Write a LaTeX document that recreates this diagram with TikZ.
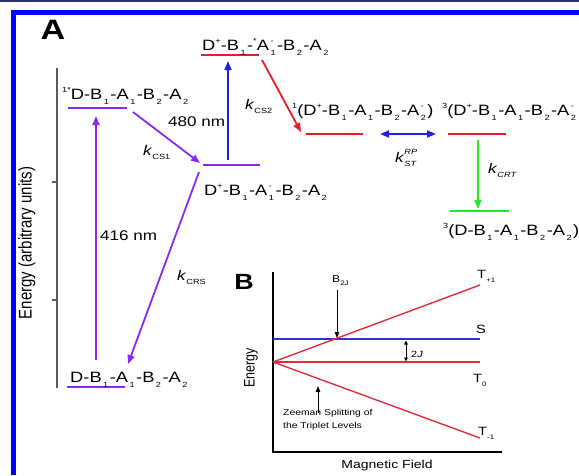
\documentclass[tikz,border=0pt]{standalone}
\usepackage{fontspec}
\setmainfont{Liberation Sans}[FakeStretch=1.22]
\newfontfamily\plainsf{Liberation Sans}
\usetikzlibrary{arrows.meta}
\definecolor{pu}{RGB}{140,40,240}
\definecolor{rd}{RGB}{230,30,40}
\definecolor{bl}{RGB}{30,30,230}
\definecolor{gr}{RGB}{40,230,40}
\definecolor{rdB}{RGB}{225,45,60}
\definecolor{blB}{RGB}{50,50,200}
\definecolor{frame}{RGB}{0,0,255}
\definecolor{navy}{RGB}{40,50,100}
\definecolor{axg}{RGB}{90,90,90}
\newcommand\sbs[1]{\kern1.5pt\raisebox{-5.5pt}{\fontsize{7.5}{7.5}\selectfont #1}\kern1.5pt}
\newcommand\sps[1]{\raisebox{6.5pt}{\fontsize{7.5}{7.5}\selectfont #1}}
\newcommand\ssb[2]{\kern1.5pt\rlap{\raisebox{6.5pt}{\fontsize{7.5}{7.5}\selectfont #1}}\raisebox{-5.5pt}{\fontsize{7.5}{7.5}\selectfont #2}\kern1.5pt}
\newcommand\ksub[2]{\textit{k}\raisebox{-4pt}{\fontsize{7.5}{7.5}\selectfont #2}}
\begin{document}
\begin{tikzpicture}[x=1pt,y=-1pt,
  lbl/.style={anchor=base west,inner sep=0pt,font=\fontsize{15}{18}\selectfont},
  klbl/.style={anchor=base west,inner sep=0pt,font=\fontsize{14}{16}\selectfont},
  lvl/.style={line width=2pt},
  arr/.style={line width=1.8pt,-{Triangle[length=9pt,width=7pt]}},
  barr/.style={line width=1pt,-{Triangle[length=6pt,width=4.5pt]}},
  bline/.style={line width=1.4pt},
  blbl/.style={anchor=base west,inner sep=0pt,font=\fontsize{12}{14}\selectfont}]
\useasboundingbox (0,0) rectangle (579,475);
% frame
\fill[navy] (0,0) rectangle (579,1.5);
\fill[frame] (11,10) rectangle (579,15);
\fill[frame] (11,10) rectangle (16,475);
% panel letters
\node[inner sep=0pt,font=\fontsize{28}{30}\selectfont\bfseries] (A) at (53,30) {A};
\node[inner sep=0pt,font=\fontsize{22}{24}\selectfont\bfseries] (B) at (244,282) {B};
% energy axis
\coordinate (axT) at (57,68);
\coordinate (axB) at (57,388);
\draw[axg,line width=1.3pt] (axT) -- (axB);
\coordinate (t1a) at (52,182); \coordinate (t1b) at (57,182);
\coordinate (t2a) at (52,300); \coordinate (t2b) at (57,300);
\draw[axg,line width=1.2pt] (t1a) -- (t1b);
\draw[axg,line width=1.2pt] (t2a) -- (t2b);
\node[rotate=90,inner sep=0pt,font=\plainsf\fontsize{15}{18}\selectfont] (ylab) at (27,243) {\scalebox{1}[1.22]{Energy (arbitrary units)}};
% levels
\coordinate (s1a) at (68,108); \coordinate (s1b) at (127,108);
\coordinate (csa) at (203,165); \coordinate (csb) at (260,165);
\coordinate (tpa) at (201,55); \coordinate (tpb) at (259,55);
\coordinate (gda) at (67,387); \coordinate (gdb) at (125,387);
\coordinate (r1a) at (306,134); \coordinate (r1b) at (363,134);
\coordinate (r3a) at (448,134); \coordinate (r3b) at (506,134);
\coordinate (gra) at (450,211); \coordinate (grb) at (509,211);
\draw[lvl,pu] (s1a) -- (s1b);
\draw[lvl,pu] (csa) -- (csb);
\draw[lvl,rd] (tpa) -- (tpb);
\draw[lvl,pu] (gda) -- (gdb);
\draw[lvl,rd] (r1a) -- (r1b);
\draw[lvl,rd] (r3a) -- (r3b);
\draw[lvl,gr] (gra) -- (grb);
% level labels
\node[lbl] (L1) at (62,99) {\sps{1*}D-B\sbs1-A\sbs1-B\sbs2-A\sbs2};
\node[lbl] (Ltop) at (202,50) {D\sps{+}-B\sbs1-\sps{*}A\ssb{-}{1}-B\sbs2-A\sbs2};
\node[lbl] (Lmid) at (204,195) {D\sps{+}-B\sbs1-A\ssb{-}{1}-B\sbs2-A\sbs2};
\node[lbl] (Lgd) at (70,382) {D-B\sbs1-A\sbs1-B\sbs2-A\sbs2};
\node[lbl] (Ls) at (292,115) {\sps{1}(D\sps{+}-B\sbs1-A\sbs1-B\sbs2-A\ssb{-}{2})};
\node[lbl] (Lt) at (442,115) {\sps{3}(D\sps{+}-B\sbs1-A\sbs1-B\sbs2-A\ssb{-}{2}};
\node[lbl] (Lg) at (443,235) {\sps{3}(D-B\sbs1-A\sbs1-B\sbs2-A\sbs2)};
% arrows
\coordinate (a416s) at (96,360); \coordinate (a416e) at (96,116);
\coordinate (cs1s) at (133,112); \coordinate (cs1e) at (200,163);
\coordinate (a480s) at (228,160); \coordinate (a480e) at (228,61);
\coordinate (crss) at (199,172); \coordinate (crse) at (128,364);
\coordinate (cs2s) at (262,60); \coordinate (cs2e) at (301,132);
\coordinate (sts) at (380,134); \coordinate (ste) at (436,134);
\coordinate (crts) at (478,140); \coordinate (crte) at (478,209);
\draw[arr,pu] (a416s) -- (a416e);
\draw[arr,pu] (cs1s) -- (cs1e);
\draw[arr,bl] (a480s) -- (a480e);
\draw[arr,pu] (crss) -- (crse);
\draw[arr,rd] (cs2s) -- (cs2e);
\draw[line width=1.8pt,bl,{Triangle[length=9pt,width=7pt]}-{Triangle[length=9pt,width=7pt]}] (sts) -- (ste);
\draw[arr,gr] (crts) -- (crte);
% arrow labels
\node[lbl,font=\fontsize{14}{16}\selectfont] (n416) at (100,240) {416 nm};
\node[lbl,font=\fontsize{14}{16}\selectfont] (n480) at (168,126) {480 nm};
\node[klbl] (kcs1) at (143,155) {\ksub{}{CS1}};
\node[klbl] (kcs2) at (245,109) {\ksub{}{CS2}};
\node[klbl] (kcrs) at (177,280) {\ksub{}{CRS}};
\node[klbl] (kcrt) at (488,173) {\ksub{}{\itshape CRT}};
\node[klbl] (kst) at (395,162) {\textit{k}\rlap{\raisebox{8pt}{\fontsize{7.5}{7.5}\selectfont\itshape RP}}\raisebox{-4pt}{\fontsize{7.5}{7.5}\selectfont\itshape ST}};
% panel B
\coordinate (bxT) at (273,272); \coordinate (bxO) at (273,452); \coordinate (bxR) at (502,452);
\draw[line width=1.4pt] (bxT) -- (bxO) -- (bxR);
\coordinate (org) at (273,362);
\coordinate (sE) at (480,339); \coordinate (sO) at (273,339);
\coordinate (t0E) at (480,362);
\coordinate (tpE) at (480,285);
\coordinate (tmE) at (480,438);
\draw[bline,blB] (sO) -- (sE);
\draw[bline,rdB] (org) -- (t0E);
\draw[bline,rdB] (org) -- (tpE);
\draw[bline,rdB] (org) -- (tmE);
\coordinate (b2js) at (337,290); \coordinate (b2je) at (337,338);
\draw[barr] (b2js) -- (b2je);
\coordinate (jA) at (406,340.5); \coordinate (jB) at (406,361.5);
\draw[line width=0.9pt,{Triangle[length=4pt,width=3.5pt]}-{Triangle[length=4pt,width=3.5pt]}] (jA) -- (jB);
\coordinate (zs) at (318,413); \coordinate (ze) at (318,386);
\draw[barr] (zs) -- (ze);
\node[blbl] (Tp) at (477,278) {T\raisebox{-4pt}{\fontsize{6.5}{7}\selectfont +1}};
\node[blbl] (S) at (476,333) {S};
\node[blbl] (T0) at (473,382) {T\raisebox{-4pt}{\fontsize{6.5}{7}\selectfont 0}};
\node[blbl] (Tm) at (478,435) {T\raisebox{-4pt}{\fontsize{6.5}{7}\selectfont -1}};
\node[blbl,font=\fontsize{10}{12}\selectfont] (B2J) at (332,282) {B\raisebox{-3.5pt}{\fontsize{6.5}{7}\selectfont 2J}};
\node[blbl,font=\fontsize{9}{11}\selectfont] (twoJ) at (411,357) {2\textit{J}};
\node[anchor=base west,inner sep=0pt,align=left,font=\fontsize{8.5}{13}\selectfont] (zee) at (283,428) {Zeeman Splitting of\\the Triplet Levels};
\node[inner sep=0pt,font=\fontsize{11.5}{13}\selectfont] (mf) at (387,466) {Magnetic Field};
\node[rotate=90,inner sep=0pt,font=\plainsf\fontsize{12.5}{14}\selectfont] (eB) at (251,368) {\scalebox{1}[1.22]{Energy}};
\end{tikzpicture}
\end{document}
